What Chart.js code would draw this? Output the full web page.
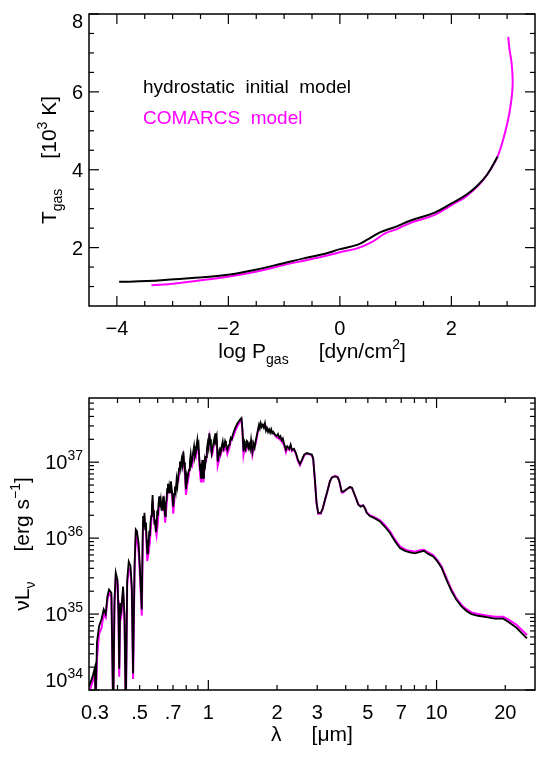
<!DOCTYPE html>
<html>
<head>
<meta charset="utf-8">
<script src="https://cdn.jsdelivr.net/npm/chart.js@4.4.1/dist/chart.umd.min.js"></script>
<style>
    html, body { margin: 0; padding: 0; background: #fff; }
    #wrap { position: relative; width: 549px; height: 757px; }
    canvas { position: absolute; left: 0; }
    #tempChart { top: 0; }
    #sedChart { top: 378px; }
</style>
</head>
<body>
<div id="wrap">
    <canvas id="tempChart" width="549" height="378"></canvas>
    <canvas id="sedChart" width="549" height="379"></canvas>
</div>
<script>
// top panel: gas temperature (10^3 K) against log gas pressure
const hydroLogP = [-3.96, -3.46, -2.96, -2.45, -2.01, -1.51, -1.01, -0.63, -0.25, 0.0, 0.31, 0.5, 0.72, 1.01, 1.26, 1.7, 2.01, 2.26, 2.45, 2.64, 2.83];
const hydroT = [1.12, 1.14, 1.19, 1.24, 1.30, 1.43, 1.60, 1.73, 1.85, 1.96, 2.07, 2.21, 2.39, 2.54, 2.69, 2.90, 3.14, 3.35, 3.57, 3.87, 4.34];
const comarcsLogP = [-3.38, -2.96, -2.45, -2.01, -1.51, -1.01, -0.63, -0.25, 0.0, 0.31, 0.57, 0.82, 1.01, 1.26, 1.7, 2.01, 2.26, 2.52, 2.7, 2.83, 2.96, 3.04, 3.09, 3.10, 3.08, 3.04, 3.02];
const comarcsT = [1.03, 1.08, 1.17, 1.25, 1.38, 1.55, 1.67, 1.79, 1.88, 1.98, 2.14, 2.37, 2.47, 2.63, 2.84, 3.10, 3.31, 3.65, 4.0, 4.34, 4.94, 5.45, 5.97, 6.31, 6.74, 7.12, 7.41];

// bottom panel: spectral energy distribution, wavelength in micron, nu*L_nu in erg/s
// hydrostatic model, sampled more densely through the noisy optical/near-IR part
const wavelengthHydro = [
    0.300, 0.303, 0.311, 0.318, 0.321, 0.325, 0.332, 0.340, 0.348, 0.355, 0.361, 0.367, 0.376, 0.383, 0.388, 0.393,
    0.400, 0.404, 0.407, 0.411, 0.416, 0.423, 0.429, 0.435, 0.441, 0.448, 0.456, 0.462, 0.468, 0.475, 0.481, 0.487,
    0.495, 0.501, 0.506, 0.511, 0.515, 0.518, 0.521, 0.525, 0.529, 0.533, 0.537, 0.540, 0.544, 0.547, 0.551, 0.554,
    0.558, 0.562, 0.566, 0.570, 0.573, 0.577, 0.581, 0.585, 0.589, 0.593, 0.597, 0.601, 0.605, 0.609, 0.614, 0.619,
    0.624, 0.630, 0.634, 0.638, 0.642, 0.647, 0.651, 0.656, 0.660, 0.665, 0.669, 0.674, 0.680, 0.686, 0.690, 0.695,
    0.698, 0.702, 0.708, 0.714, 0.720, 0.726, 0.732, 0.738, 0.744, 0.751, 0.757, 0.764, 0.770, 0.777, 0.783, 0.790,
    0.794, 0.798, 0.803, 0.809, 0.816, 0.823, 0.830, 0.837, 0.844, 0.851, 0.858, 0.866, 0.874, 0.883, 0.889, 0.895,
    0.901, 0.907, 0.913, 0.920, 0.925, 0.929, 0.935, 0.941, 0.946, 0.951, 0.957, 0.964, 0.970, 0.977, 0.985, 0.994,
    1.002, 1.010, 1.018, 1.027, 1.034, 1.041, 1.050, 1.059, 1.066, 1.073, 1.080, 1.088, 1.094, 1.099, 1.108, 1.117,
    1.126, 1.136, 1.146, 1.156, 1.165, 1.175, 1.185, 1.195, 1.203, 1.212, 1.222, 1.233, 1.243, 1.254, 1.267, 1.280,
    1.310, 1.342, 1.374, 1.397, 1.411, 1.426, 1.436, 1.446, 1.456, 1.466, 1.476, 1.486, 1.499, 1.512, 1.525, 1.539,
    1.550, 1.560, 1.571, 1.582, 1.596, 1.610, 1.638, 1.667, 1.681, 1.696, 1.714, 1.733, 1.751, 1.770, 1.789, 1.808,
    1.827, 1.847, 1.866, 1.886, 1.906, 1.926, 1.959, 1.992, 2.019, 2.046, 2.070, 2.095, 2.120, 2.144, 2.188, 2.217,
    2.262, 2.294, 2.324, 2.372, 2.420, 2.470, 2.52, 2.57, 2.63, 2.70, 2.77, 2.84, 2.88, 2.93, 2.98, 3.03,
    3.11, 3.17, 3.24, 3.32, 3.41, 3.48, 3.59, 3.69, 3.75, 3.84, 3.90, 4.04, 4.17, 4.26, 4.35, 4.43,
    4.54, 4.65, 4.77, 4.86, 4.94, 5.10, 5.37, 5.65, 5.94, 6.25, 6.57, 6.91, 7.27, 7.64, 8.04, 8.45,
    8.80, 9.19, 9.66, 10.0, 10.5, 11.07, 11.63, 12.2, 12.86, 13.52, 14.23, 15.2, 16.55, 18.0, 19.6, 20.6,
    22.4, 24.9
];
const lumHydro = [
    1.1e34, 1.1e34, 1.5e34, 1.95e34, 7e33, 4.2e34, 6.9e34, 8.5e34, 1.15e35, 1.0e35, 1.7e35, 2.1e35, 1.9e35, 5e33, 1.55e35, 3.5e35,
    2.8e35, 1.0e35, 1.9e34, 1.4e35, 1.15e35, 2.3e35, 1.0e35, 5e33, 2.8e35, 4.9e35, 4.3e35, 2.3e35, 1.65e34, 4.3e35, 1.3e36, 1.23e36,
    8.5e35, 4.3e35, 2.2e35, 1.15e35, 9e35, 1.95e36, 1.4e36, 2.15e36, 1.3e36, 1.6e36, 9e35, 6.3e35, 9.5e35, 7.8e35, 1.25e36, 1.05e36,
    1.6e36, 1.95e36, 2.6e36, 3.7e36, 2.2e36, 2.35e36, 1.5e36, 1.75e36, 1.2e36, 1.35e36, 2.3e36, 1.95e36, 2.8e36, 3.55e36, 2.6e36, 3.15e36,
    2.3e36, 2.9e36, 2.4e36, 3.55e36, 2.6e36, 1.95e36, 2.9e36, 3.15e36, 4.4e36, 5.2e36, 3.9e36, 4.8e36, 4.0e36, 5.6e36, 4.6e36, 3.9e36,
    3.1e36, 2.6e36, 3.8e36, 4.8e36, 4.1e36, 5.9e36, 4.9e36, 6.5e36, 8.2e36, 1.02e37, 8.4e36, 1.07e37, 9.2e36, 1.38e37, 1.0e37, 7.9e36,
    5.6e36, 4.4e36, 6.6e36, 5.9e36, 7.2e36, 7.9e36, 1.0e37, 1.26e37, 9.6e36, 1.07e37, 1.35e37, 1.62e37, 1.2e37, 1.38e37, 1.7e37, 1.95e37,
    1.45e37, 1.62e37, 1.1e37, 7.9e36, 9.5e36, 6.2e36, 8.4e36, 1.07e37, 8.0e36, 6.2e36, 8.8e36, 1.07e37, 9.4e36, 1.17e37, 1.45e37, 1.78e37,
    1.55e37, 2.4e37, 2.0e37, 1.62e37, 1.3e37, 1.45e37, 1.7e37, 1.95e37, 1.7e37, 2.4e37, 2.0e37, 2.2e37, 1.5e37, 1.02e37, 1.2e37, 1.26e37,
    1.5e37, 1.45e37, 1.65e37, 1.86e37, 1.5e37, 1.62e37, 1.9e37, 1.78e37, 1.55e37, 1.45e37, 1.6e37, 1.7e37, 1.9e37, 2.1e37, 2.0e37, 2.3e37,
    2.8e37, 3.25e37, 3.6e37, 3.8e37, 2.7e37, 1.38e37, 1.9e37, 1.78e37, 1.5e37, 1.62e37, 1.9e37, 1.86e37, 1.55e37, 1.7e37, 1.5e37, 1.95e37,
    1.6e37, 1.38e37, 1.6e37, 1.7e37, 1.55e37, 1.86e37, 2.4e37, 3.1e37, 2.8e37, 3.25e37, 2.9e37, 3.1e37, 2.85e37, 3.25e37, 2.6e37, 2.8e37,
    2.5e37, 2.7e37, 2.45e37, 2.7e37, 2.4e37, 2.5e37, 2.3e37, 2.2e37, 2.35e37, 2.1e37, 2.2e37, 1.95e37, 2.05e37, 1.78e37, 1.45e37, 1.62e37,
    1.5e37, 1.7e37, 1.45e37, 1.5e37, 1.32e37, 1.07e37, 9.5e36, 1.07e37, 1.26e37, 1.32e37, 1.29e37, 1.26e37, 1.12e37, 5.9e36, 2.9e36, 2.15e36,
    2.15e36, 2.45e36, 3.15e36, 4.1e36, 5.6e36, 6.3e36, 6.5e36, 6.3e36, 5.6e36, 4.1e36, 4.1e36, 4.4e36, 4.7e36, 4.6e36, 3.9e36, 3.4e36,
    2.75e36, 2.6e36, 2.7e36, 2.45e36, 2.15e36, 1.95e36, 1.82e36, 1.66e36, 1.41e36, 1.17e36, 9.1e35, 7.4e35, 6.8e35, 6.5e35, 6.3e35, 6.6e35,
    6.8e35, 6.2e35, 5.75e35, 5.1e35, 4.1e35, 2.8e35, 2.0e35, 1.55e35, 1.26e35, 1.1e35, 1.0e35, 9.5e34, 9.1e34, 8.7e34, 8.7e34, 7.9e34,
    6.6e34, 4.8e34
];
// COMARCS model
const wavelengthComarcs = [
    0.300, 0.303, 0.311, 0.318, 0.321, 0.325, 0.332, 0.340, 0.348, 0.355, 0.361, 0.367, 0.376, 0.383, 0.388, 0.393,
    0.400, 0.404, 0.407, 0.411, 0.416, 0.423, 0.429, 0.435, 0.441, 0.448, 0.456, 0.462, 0.468, 0.475, 0.481, 0.487,
    0.495, 0.501, 0.511, 0.518, 0.525, 0.533, 0.540, 0.547, 0.554, 0.562, 0.570, 0.577, 0.585, 0.593, 0.601, 0.609,
    0.619, 0.630, 0.638, 0.647, 0.656, 0.665, 0.674, 0.686, 0.695, 0.702, 0.714, 0.726, 0.738, 0.751, 0.764, 0.777,
    0.790, 0.798, 0.809, 0.823, 0.837, 0.851, 0.866, 0.883, 0.895, 0.907, 0.920, 0.929, 0.941, 0.951, 0.964, 0.977,
    0.994, 1.010, 1.027, 1.041, 1.059, 1.073, 1.088, 1.099, 1.117, 1.136, 1.156, 1.175, 1.195, 1.212, 1.233, 1.254,
    1.280, 1.310, 1.342, 1.374, 1.397, 1.411, 1.426, 1.446, 1.466, 1.486, 1.512, 1.539, 1.560, 1.582, 1.610, 1.638,
    1.667, 1.696, 1.733, 1.770, 1.808, 1.847, 1.886, 1.926, 1.992, 2.046, 2.095, 2.144, 2.188, 2.217, 2.262, 2.294,
    2.324, 2.372, 2.420, 2.470, 2.52, 2.57, 2.63, 2.70, 2.77, 2.84, 2.88, 2.93, 2.98, 3.03, 3.11, 3.17,
    3.24, 3.32, 3.41, 3.48, 3.59, 3.69, 3.75, 3.84, 3.90, 4.04, 4.17, 4.26, 4.35, 4.43, 4.54, 4.65,
    4.77, 4.86, 4.94, 5.10, 5.37, 5.65, 5.94, 6.25, 6.57, 6.91, 7.27, 7.64, 8.04, 8.45, 8.80, 9.19,
    9.66, 10.0, 10.5, 11.07, 11.63, 12.2, 12.86, 13.52, 14.23, 15.2, 16.55, 18.0, 19.6, 20.6, 22.4, 24.9
];
const lumComarcs = [
    9e33, 9e33, 1.3e34, 1.6e34, 7e33, 2.5e34, 5.5e34, 6.5e34, 1.0e35, 9e34, 1.5e35, 1.9e35, 1.7e35, 5e33, 1.3e35, 3.1e35,
    2.5e35, 8.5e34, 1.5e34, 1.2e35, 1.0e35, 2.0e35, 8.5e34, 5e33, 2.4e35, 4.0e35, 3.6e35, 2.0e35, 1.4e34, 3.6e35, 1.1e36, 1.0e36,
    6.6e35, 3.5e35, 9.5e34, 1.6e36, 1.8e36, 1.3e36, 5.0e35, 6.4e35, 8.7e35, 1.6e36, 3.1e36, 1.95e36, 1.45e36, 1.1e36, 1.6e36, 3.0e36,
    2.6e36, 2.4e36, 3.0e36, 1.6e36, 2.7e36, 4.5e36, 4.1e36, 4.8e36, 3.3e36, 2.1e36, 4.1e36, 5.1e36, 5.6e36, 8.9e36, 9.3e36, 1.2e37,
    6.8e36, 3.7e36, 5.1e36, 6.9e36, 1.1e37, 9.3e36, 1.42e37, 1.2e37, 1.72e37, 1.42e37, 6.9e36, 5.4e36, 9.3e36, 5.4e36, 9.4e36, 1.03e37,
    1.58e37, 2.15e37, 1.42e37, 1.28e37, 1.72e37, 2.15e37, 1.95e37, 9.0e36, 1.12e37, 1.28e37, 1.66e37, 1.45e37, 1.58e37, 1.28e37, 1.5e37, 1.9e37,
    2.1e37, 2.55e37, 3.0e37, 3.4e37, 3.6e37, 2.5e37, 1.25e37, 1.6e37, 1.45e37, 1.7e37, 1.55e37, 1.8e37, 1.25e37, 1.55e37, 1.72e37, 2.25e37,
    2.95e37, 3.1e37, 3.0e37, 3.15e37, 2.7e37, 2.6e37, 2.6e37, 2.42e37, 2.12e37, 2.03e37, 1.88e37, 1.7e37, 1.35e37, 1.55e37, 1.45e37, 1.64e37,
    1.4e37, 1.46e37, 1.28e37, 1.03e37, 9.1e36, 1.04e37, 1.23e37, 1.3e37, 1.27e37, 1.24e37, 1.1e37, 5.8e36, 2.85e36, 2.1e36, 2.1e36, 2.4e36,
    3.1e36, 4.05e36, 5.6e36, 6.3e36, 6.6e36, 6.4e36, 5.6e36, 4.0e36, 4.0e36, 4.4e36, 4.7e36, 4.6e36, 3.9e36, 3.4e36, 2.8e36, 2.65e36,
    2.7e36, 2.5e36, 2.2e36, 2.0e36, 1.88e36, 1.72e36, 1.48e36, 1.23e36, 9.6e35, 7.8e35, 7.1e35, 6.8e35, 6.6e35, 6.9e35, 7.0e35, 6.5e35,
    6.0e35, 5.3e35, 4.3e35, 2.95e35, 2.1e35, 1.62e35, 1.32e35, 1.16e35, 1.05e35, 1.0e35, 9.6e34, 9.2e34, 9.2e34, 8.5e34, 7.2e34, 5.3e34
];

// ticks
const pMajor = [-4, -2, 0, 2];
const pLabels = ['\u22124', '\u22122', '0', '2'];
const pMinor = [-3.5, -3, -2.5, -1.5, -1, -0.5, 0.5, 1, 1.5, 2.5, 3];
const tMajor = [2, 4, 6, 8];
const tLabels = ['2', '4', '6', '8'];
const tMinor = [1, 1.5, 2.5, 3, 3.5, 4.5, 5, 5.5, 6.5, 7, 7.5];
const lamMajor = [1, 10];
const lamMinor = [0.4, 0.5, 0.6, 0.7, 0.8, 0.9, 2, 3, 4, 5, 6, 7, 8, 9, 20];
const lamLabelAt = [0.3, 0.5, 0.7, 1, 2, 3, 5, 7, 10, 20];
const lamLabels = ['0.3', '.5', '.7', '1', '2', '3', '5', '7', '10', '20'];
const lumMajor = [1e34, 1e35, 1e36, 1e37];
const lumExp = ['34', '35', '36', '37'];
const lumMinor = [2e34, 3e34, 4e34, 5e34, 6e34, 7e34, 8e34, 9e34, 2e35, 3e35, 4e35, 5e35, 6e35, 7e35, 8e35, 9e35,
    2e36, 3e36, 4e36, 5e36, 6e36, 7e36, 8e36, 9e36, 2e37, 3e37, 4e37, 5e37, 6e37];

const FAMILY = '"Liberation Sans", Arial, sans-serif';

function richWidth(ctx, parts, size) {
    let w = 0;
    parts.forEach(([t, k]) => {
        if (k === 'gap') { w += Number(t); return; }
        ctx.font = (k ? Math.round(size * 0.68) : size) + 'px ' + FAMILY;
        w += ctx.measureText(t).width;
    });
    return w;
}

// draws text with sub- and superscripts, optionally rotated
function drawRich(ctx, parts, x, y, size, align, angle) {
    ctx.save();
    ctx.translate(x, y);
    if (angle) ctx.rotate(angle);
    const w = richWidth(ctx, parts, size);
    let cx = align === 'center' ? -w / 2 : align === 'right' ? -w : 0;
    ctx.textAlign = 'left';
    ctx.textBaseline = 'alphabetic';
    parts.forEach(([t, k]) => {
        if (k === 'gap') { cx += Number(t); return; }
        ctx.font = (k ? Math.round(size * 0.68) : size) + 'px ' + FAMILY;
        const dy = k === 'sub' ? size * 0.3 : k === 'sup' ? -size * 0.45 : 0;
        ctx.fillText(t, cx, dy);
        cx += ctx.measureText(t).width;
    });
    ctx.restore();
}

// IDL style box: frame, inward ticks on all four sides, labels and titles
function idlAxes(cfg) {
    return {
        id: 'idlAxes',
        afterDatasetsDraw(chart) {
            const ctx = chart.ctx;
            const a = chart.chartArea;
            const x = chart.scales.x;
            const y = chart.scales.y;
            ctx.save();
            ctx.strokeStyle = '#000';
            ctx.fillStyle = '#000';
            ctx.lineWidth = 1.5;
            ctx.strokeRect(a.left, a.top, a.right - a.left, a.bottom - a.top);

            const tick = (x1, y1, x2, y2) => {
                ctx.beginPath();
                ctx.moveTo(x1, y1);
                ctx.lineTo(x2, y2);
                ctx.stroke();
            };
            ctx.lineWidth = 1.2;
            const xTicks = (vals, len) => vals.forEach(v => {
                const p = x.getPixelForValue(v);
                tick(p, a.bottom, p, a.bottom - len);
                tick(p, a.top, p, a.top + len);
            });
            const yTicks = (vals, len) => vals.forEach(v => {
                const p = y.getPixelForValue(v);
                tick(a.left, p, a.left + len, p);
                tick(a.right, p, a.right - len, p);
            });
            xTicks(cfg.xMajor, 10);
            xTicks(cfg.xMinor, 5);
            yTicks(cfg.yMajor, 10);
            yTicks(cfg.yMinor, 5);

            const size = 20;
            cfg.xLabelAt.forEach((v, i) => {
                const parts = [[cfg.xLabels[i]]];
                const w = richWidth(ctx, parts, size);
                const p = Math.max(x.getPixelForValue(v), a.left + w / 2 - 8);
                drawRich(ctx, parts, p, cfg.xLabelBase, size, 'center');
            });
            cfg.yLabelAt.forEach((v, i) => {
                const p = Math.min(Math.max(y.getPixelForValue(v), a.top + 7), a.bottom - 10);
                drawRich(ctx, cfg.yLabels[i], a.left - 6, p + 7, size, 'right');
            });

            drawRich(ctx, cfg.xTitle, (a.left + a.right) / 2, cfg.xTitleBase, 21, 'center');
            drawRich(ctx, cfg.yTitle, cfg.yTitleBase, (a.top + a.bottom) / 2, 21, 'center', -Math.PI / 2);

            (cfg.notes || []).forEach(n => {
                ctx.fillStyle = n.color;
                drawRich(ctx, [[n.text]], n.x, n.y, 19, 'left');
            });
            ctx.restore();
        }
    };
}

function lineSet(label, points, color, width, tension) {
    return {
        label: label,
        data: points,
        showLine: true,
        borderColor: color,
        backgroundColor: color,
        borderWidth: width,
        pointRadius: 0,
        tension: tension,
        clip: 0
    };
}

const baseOptions = (padding, xScale, yScale) => ({
    responsive: false,
    animation: false,
    events: [],
    layout: { padding: padding },
    plugins: {
        legend: { display: false },
        tooltip: { enabled: false }
    },
    scales: { x: xScale, y: yScale }
});

new Chart(document.getElementById('tempChart'), {
    type: 'scatter',
    data: {
        datasets: [
            lineSet('hydrostatic initial model', hydroLogP.map((p, i) => ({ x: p, y: hydroT[i] })), '#000000', 2, 0.4),
            lineSet('COMARCS model', comarcsLogP.map((p, i) => ({ x: p, y: comarcsT[i] })), '#ff00ff', 2, 0.4)
        ]
    },
    options: baseOptions(
        { left: 89, top: 14, right: 14, bottom: 72 },
        { type: 'linear', min: -4.5, max: 3.5, display: false },
        { type: 'linear', min: 0.5, max: 8, display: false }
    ),
    plugins: [idlAxes({
        xMajor: pMajor, xMinor: pMinor, yMajor: tMajor, yMinor: tMinor,
        xLabelAt: pMajor, xLabels: pLabels, xLabelBase: 335,
        yLabelAt: tMajor, yLabels: tLabels.map(t => [[t]]),
        xTitle: [['log P'], ['gas', 'sub'], ['30', 'gap'], ['[dyn/cm'], ['2', 'sup'], [']']],
        xTitleBase: 358,
        yTitle: [['T'], ['gas', 'sub'], ['30', 'gap'], ['[10'], ['3', 'sup'], [' K]']],
        yTitleBase: 56,
        notes: [
            { text: 'hydrostatic  initial  model', color: '#000000', x: 143, y: 93 },
            { text: 'COMARCS  model', color: '#ff00ff', x: 143, y: 124 }
        ]
    })]
});

new Chart(document.getElementById('sedChart'), {
    type: 'scatter',
    data: {
        datasets: [
            lineSet('hydrostatic initial model', wavelengthHydro.map((w, i) => ({ x: w, y: lumHydro[i] })), '#000000', 1.8, 0),
            lineSet('COMARCS model', wavelengthComarcs.map((w, i) => ({ x: w, y: lumComarcs[i] })), '#ff00ff', 2, 0)
        ]
    },
    options: baseOptions(
        { left: 89, top: 20, right: 14, bottom: 67 },
        { type: 'logarithmic', min: 0.3, max: 27, display: false },
        { type: 'logarithmic', min: 1e34, max: 7e37, display: false }
    ),
    plugins: [idlAxes({
        xMajor: lamMajor, xMinor: lamMinor, yMajor: lumMajor, yMinor: lumMinor,
        xLabelAt: lamLabelAt, xLabels: lamLabels, xLabelBase: 341,
        yLabelAt: lumMajor, yLabels: lumExp.map(e => [['10'], [e, 'sup']]),
        xTitle: [['\u03bb'], ['30', 'gap'], ['[\u03bcm]']],
        xTitleBase: 363,
        yTitle: [['\u03bdL'], ['\u03bd', 'sub'], ['30', 'gap'], ['[erg s'], ['\u22121', 'sup'], [']']],
        yTitleBase: 29
    })]
});
</script>
</body>
</html>
